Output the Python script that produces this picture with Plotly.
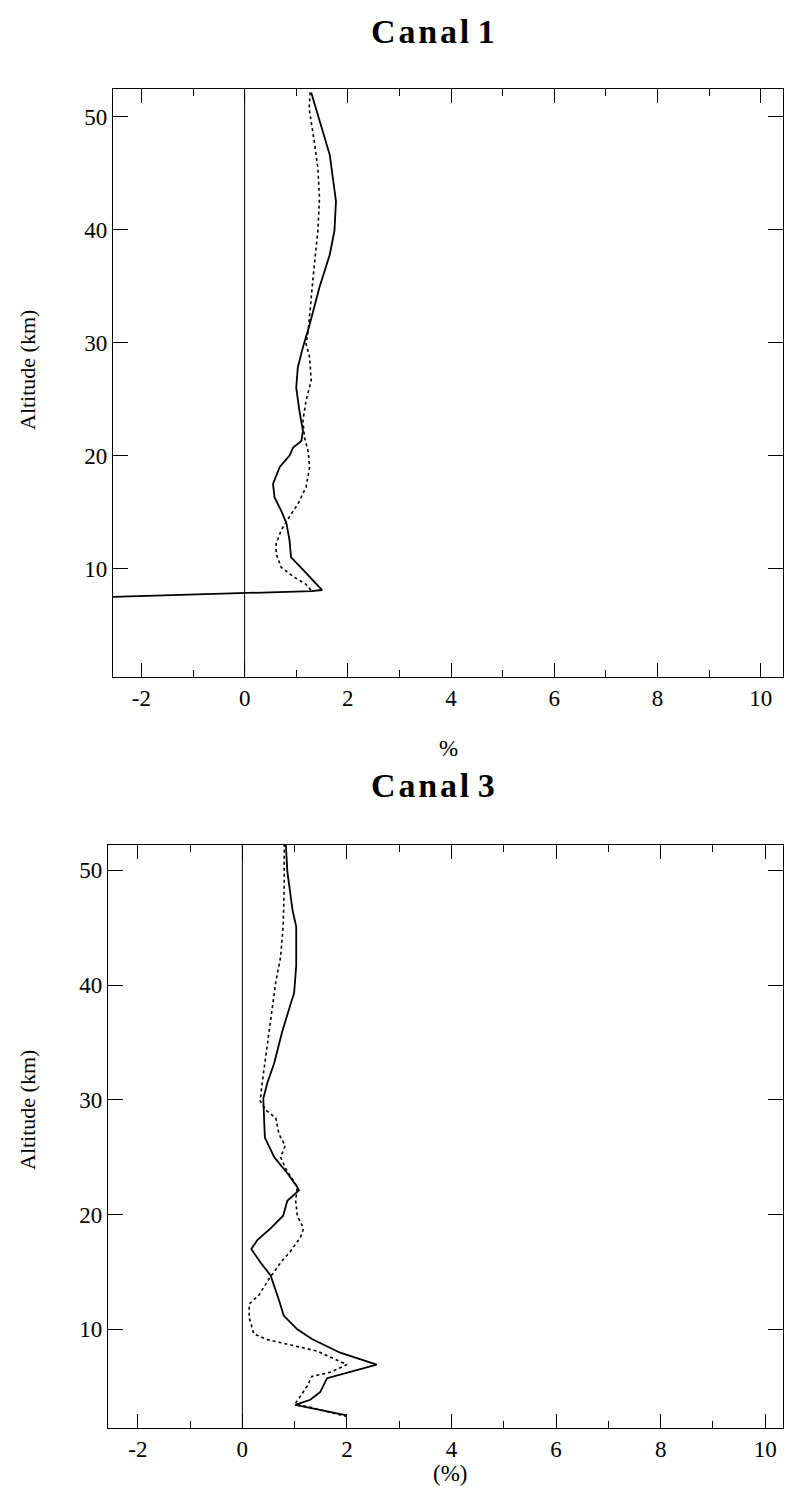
import plotly.graph_objects as go

# ---------------- data ----------------
# Canal 1
c1_solid_x = [1.29, 1.65, 1.77, 1.74, 1.65, 1.45, 1.26, 1.13, 1.03, 1.00, 1.06, 1.13, 1.10, 0.94, 0.87,
              0.68, 0.55, 0.58, 0.71, 0.81, 0.87, 0.90, 1.13, 1.32, 1.50, 1.30, 0.00, -2.55]
c1_solid_y = [52.15, 46.6, 42.5, 39.9, 37.8, 34.9, 31.6, 29.6, 27.8, 26.0, 24.0, 22.2, 21.3, 20.7, 20.0,
              19.0, 17.5, 16.3, 15.1, 14.0, 12.5, 11.0, 9.9, 9.0, 8.1, 8.0, 7.85, 7.5]
c1_dot_x = [1.27, 1.25, 1.35, 1.42, 1.45, 1.42, 1.35, 1.29, 1.23, 1.19, 1.26, 1.29, 1.19, 1.13, 1.16,
            1.23, 1.26, 1.19, 1.03, 0.87, 0.71, 0.61, 0.61, 0.71, 0.94, 1.19, 1.30]
c1_dot_y = [52.15, 50.7, 47.8, 45.4, 42.8, 39.9, 36.9, 34.0, 31.0, 29.9, 28.7, 26.6, 24.9, 23.1, 21.6,
            20.4, 19.0, 17.2, 15.7, 14.6, 13.4, 12.2, 11.3, 10.1, 9.3, 8.6, 8.0]

# Canal 3
c3_solid_x = [0.83, 0.86, 0.96, 1.03, 1.03, 0.99, 0.92, 0.76, 0.61, 0.48, 0.40, 0.41, 0.43, 0.61, 0.86,
              1.05, 1.08, 0.86, 0.78, 0.54, 0.29, 0.17, 0.35, 0.54, 0.64, 0.71, 0.79, 1.05, 1.33, 1.87,
              2.57, 1.62, 1.49, 1.30, 1.01, 2.00]
c3_solid_y = [52.3, 49.9, 46.5, 45.1, 41.7, 39.3, 38.3, 35.9, 33.2, 31.5, 30.1, 28.4, 26.7, 25.0, 23.6,
              22.4, 22.1, 21.2, 19.9, 18.8, 17.8, 17.0, 15.8, 14.7, 13.4, 12.4, 11.2, 10.0, 9.15, 7.96,
              6.93, 5.74, 4.55, 3.86, 3.42, 2.5]
c3_dot_x = [0.80, 0.80, 0.78, 0.73, 0.64, 0.54, 0.45, 0.38, 0.34, 0.45, 0.64, 0.70, 0.82, 0.73, 0.83,
            1.05, 1.02, 1.05, 1.17, 1.11, 0.92, 0.73, 0.51, 0.32, 0.13, 0.13, 0.22, 0.48, 0.92, 1.43,
            2.00, 1.68, 1.33, 1.24, 1.14, 1.01, 2.00]
c3_dot_y = [52.3, 48.5, 45.1, 42.4, 40.3, 36.9, 34.2, 31.5, 29.9, 29.1, 28.4, 27.0, 26.0, 25.0, 24.0,
            22.4, 21.2, 19.9, 18.8, 18.0, 16.8, 15.8, 14.4, 13.0, 12.2, 11.0, 9.6, 9.1, 8.64, 8.1,
            6.93, 6.25, 5.9, 5.06, 4.37, 3.52, 2.4]

x_ticks = [-2, 0, 2, 4, 6, 8, 10]
x_tick_text = ["-2", "0", "2", "4", "6", "8", "10"]
y_ticks = [10, 20, 30, 40, 50]

W, H = 789, 1493
def py(p):
    return 1 - p / H
def px(p):
    return p / W

FONT = "Liberation Serif"
fig = go.Figure()

fig.add_trace(go.Scatter(x=c1_solid_x, y=c1_solid_y, mode="lines", line=dict(color="black", width=1.8),
                         xaxis="x", yaxis="y", showlegend=False))
fig.add_trace(go.Scatter(x=c1_dot_x, y=c1_dot_y, mode="lines", line=dict(color="black", width=1.6, dash="dot"),
                         xaxis="x", yaxis="y", showlegend=False))
fig.add_trace(go.Scatter(x=c3_solid_x, y=c3_solid_y, mode="lines", line=dict(color="black", width=1.8),
                         xaxis="x2", yaxis="y2", showlegend=False))
fig.add_trace(go.Scatter(x=c3_dot_x, y=c3_dot_y, mode="lines", line=dict(color="black", width=1.6, dash="dot"),
                         xaxis="x2", yaxis="y2", showlegend=False))

def xax(domain, rng, anchor):
    return dict(domain=domain, range=rng, anchor=anchor, tickvals=x_ticks, ticktext=x_tick_text,
                ticks="inside", ticklen=14,
                tickwidth=1, tickcolor="black", showline=True, linecolor="black", linewidth=1.3,
                mirror="ticks", showgrid=False, zeroline=False,
                minor=dict(dtick=1, tick0=0, ticks="inside", ticklen=7, tickwidth=1, tickcolor="black", showgrid=False),
                tickfont=dict(family=FONT, size=23, color="black"))

def yax(domain, rng, anchor):
    return dict(domain=domain, range=rng, anchor=anchor, tickvals=y_ticks, ticks="inside", ticklen=15,
                tickwidth=1, tickcolor="black", showline=True, linecolor="black", linewidth=1.3,
                mirror="ticks", showgrid=False, zeroline=False,
                tickfont=dict(family=FONT, size=23, color="black"))

fig.update_layout(
    width=W, height=H, margin=dict(l=0, r=0, t=0, b=0),
    paper_bgcolor="white", plot_bgcolor="white",
    xaxis=xax([px(113), px(783)], [-2.55, 10.43], "y"),
    yaxis=yax([py(677), py(89)], [0.4, 52.45], "x"),
    xaxis2=xax([px(108), px(783)], [-2.57, 10.34], "y2"),
    yaxis2=yax([py(1428), py(845)], [1.4, 52.2], "x2"),
    shapes=[
        dict(type="line", xref="x", yref="y domain", x0=0, x1=0, y0=0, y1=1, line=dict(color="black", width=1)),
        dict(type="line", xref="x2", yref="y2 domain", x0=0, x1=0, y0=0, y1=1, line=dict(color="black", width=1)),
    ],
)

HS = "\u200a"
annos = [
    dict(text=HS.join("Canal") + " " + "1", x=px(433), y=py(32), font=dict(family=FONT, size=34, color="black"), bold=True),
    dict(text=HS.join("Canal") + " " + "3", x=px(433), y=py(785), font=dict(family=FONT, size=34, color="black"), bold=True),
    dict(text="%", x=px(448), y=py(748), font=dict(family=FONT, size=23, color="black")),
    dict(text="(%)", x=px(450), y=py(1473), font=dict(family=FONT, size=23, color="black")),
    dict(text="Altitude (km)", x=px(28), y=py(370), font=dict(family=FONT, size=22, color="black"), textangle=-90),
    dict(text="Altitude (km)", x=px(27), y=py(1110), font=dict(family=FONT, size=22, color="black"), textangle=-90),
]
for a in annos:
    bold = a.pop("bold", False)
    if bold:
        a["text"] = "<b>" + a["text"] + "</b>"
    fig.add_annotation(xref="paper", yref="paper", showarrow=False, xanchor="center", yanchor="middle", **a)

fig.write_html("out.html")
